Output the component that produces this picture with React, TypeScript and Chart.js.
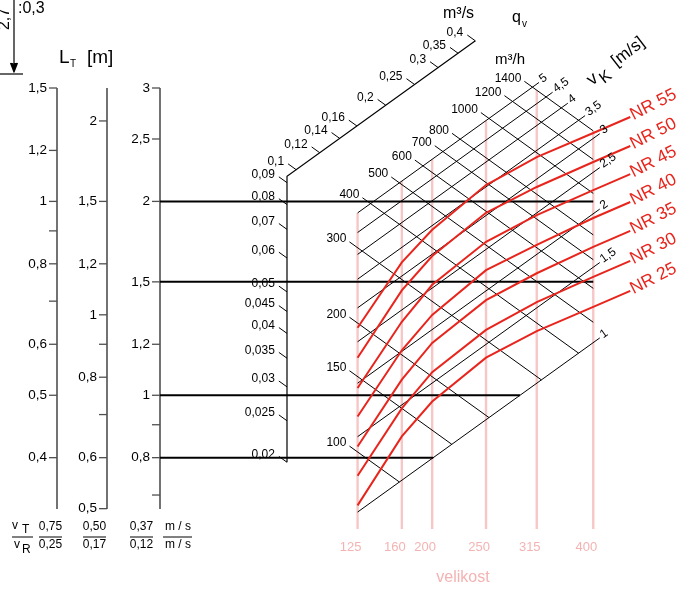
import { useEffect, useRef } from 'react';
import { Chart, registerables } from 'chart.js';

Chart.register(...registerables);

// ---------------- values ----------------
const sizeLabels = ['125', '160', '200', '250', '315', '400'];
// effective area of each size [m²]  (qv = 3600 · A · vK)
const sizeAreaM2 = [0.0201, 0.0283, 0.0358, 0.0543, 0.0804, 0.1245];
const flowLinesM3h = [100, 150, 200, 300, 400, 500, 600, 700, 800, 1000, 1200, 1400];
const velocityLines = [1, 1.5, 2, 2.5, 3, 3.5, 4, 4.5, 5];
const flowTicksM3s = [0.02, 0.025, 0.03, 0.035, 0.04, 0.045, 0.05, 0.06, 0.07, 0.08, 0.09, 0.1, 0.12, 0.14, 0.16, 0.2, 0.25, 0.3, 0.35, 0.4];
const nrLabels = ['NR 55', 'NR 50', 'NR 45', 'NR 40', 'NR 35', 'NR 30', 'NR 25'];
// airflow [m³/h] of each NR curve at the sizes 125 … 400
const nr55 = [195, 329, 441, 691, 977, 1384];
const nr50 = [166, 283, 383, 595, 832, 1184];
const nr45 = [141, 239, 328, 509, 715, 1018];
const nr40 = [121, 205, 279, 437, 609, 876];
const nr35 = [103, 175, 240, 372, 523, 750];
const nr30 = [88, 150, 205, 317, 448, 638];
const nr25 = [75, 129, 175, 273, 383, 543];
const nrSeries = [nr55, nr50, nr45, nr40, nr35, nr30, nr25];
const ltTicks1 = [1.5, 1.2, 1, 0.8, 0.6, 0.5, 0.4];
const ltTicks2 = [2, 1.5, 1.2, 1, 0.8, 0.6, 0.5];
const ltTicks3 = [3, 2.5, 2, 1.5, 1.2, 1, 0.8];
const ltMinorTicks = [0.9, 0.7];
const ltTopValues = [1.5, 2.25, 3];
const ltExampleLines = [2, 1.5, 1, 0.8];
const ratioTop = ['0,75', '0,50', '0,37'];
const ratioBottom = ['0,25', '0,17', '0,12'];

// ---------------- layout ----------------
const W = 686;
const H = 589;
const AREA_TOP = 88;
const AREA_BOTTOM = 509;
const LT_PX_PER_DECADE = 644;
const LT_X = [57, 107, 160];
const LT_TICK = 8;
// nomogram plane: x = X0 + KX·(lg q − lg v), y = Y0 − KY·(lg q + lg v)
const KX = 297.6;
const KY = 214;
const X0 = -195.8;
const Y0 = 910;
const QV_AXIS_X = 287;
const QV_AXIS_VK = 8;
const SIZE_BOTTOM = 529;
const GRID_TICK = 10;
const QV_TICK = 10;
const NR_TAIL = { dx: 37, dy: -16 };
const RATIO_X = [50.5, 94.5, 141.5];
const RATIO_BARS = [[12, 33], [39, 62], [83, 106], [130, 153], [163, 192]];
const ARROW = { x: 14, top: 0, tip: 72, head: 9, halfWidth: 3.5 };

const FONT = "'Liberation Sans', Arial, Helvetica, sans-serif";
const RED = '#e8251d';
const PINK = 'rgba(242,160,160,0.6)';
const PINK_TEXT = '#f4b3b3';
const AXIS_GRAY = '#505050';

type Pt = { x: number; y: number };
const lg = Math.log10;
const tAt = (X: number) => (X - X0) / KX;
const lat = (q: number, v: number): Pt => ({ x: X0 + KX * (lg(q) - lg(v)), y: Y0 - KY * (lg(q) + lg(v)) });
const flowAtX = (q: number, X: number): Pt => ({ x: X, y: Y0 - KY * (2 * lg(q) - tAt(X)) });
const velAtX = (v: number, X: number): Pt => ({ x: X, y: Y0 - KY * (tAt(X) + 2 * lg(v)) });
const sizeX = (A: number) => X0 + KX * lg(A * 3600);
const ltMin = (k: number) => ltTopValues[k] / Math.pow(10, (AREA_BOTTOM - AREA_TOP) / LT_PX_PER_DECADE);
const ltPixel = (k: number, v: number) => AREA_TOP + LT_PX_PER_DECADE * lg(ltTopValues[k] / v);
const fmt = (v: number) => String(v).replace('.', ',');

function geometry() {
  const last = <T,>(a: T[]) => a[a.length - 1];
  const XL = sizeX(sizeAreaM2[0]);
  const XR = sizeX(last(sizeAreaM2));
  const QMAX = last(flowLinesM3h);
  const VMIN = velocityLines[0];
  const VMAX = last(velocityLines);
  const n = Math.hypot(KX, KY);
  const dV = { x: KX / n, y: -KY / n };
  const dF = { x: -KX / n, y: -KY / n };
  const corner = lat(QMAX, VMAX);
  const velLines = velocityLines.map((v) => {
    const s = velAtX(v, XL);
    const e = velAtX(v, Math.min(lat(QMAX, v).x, XR));
    const t = { x: e.x + dV.x * (GRID_TICK - 2), y: e.y + dV.y * (GRID_TICK - 2) };
    return { v, pts: [s, t], tick: t };
  });
  const flowLines = flowLinesM3h.map((q) => {
    const s = flowAtX(q, Math.max(XL, lat(q, VMAX).x));
    const t = { x: s.x + dF.x * GRID_TICK, y: s.y + dF.y * GRID_TICK };
    const e = flowAtX(q, Math.min(lat(q, VMIN).x, XR));
    return { q, pts: [t, e], tick: t };
  });
  const sizeLines = sizeAreaM2.map((A) => {
    const X = sizeX(A);
    const top = X <= corner.x ? velAtX(VMAX, X).y : flowAtX(QMAX, X).y;
    return { X, pts: [{ x: X, y: top }, { x: X, y: SIZE_BOTTOM }] };
  });
  const qPoint = (m3s: number) => {
    const m = m3s * 3600;
    const p = lat(m, QV_AXIS_VK);
    return p.x >= QV_AXIS_X ? p : flowAtX(m, QV_AXIS_X);
  };
  const qAxis = [qPoint(flowTicksM3s[0]), velAtX(QV_AXIS_VK, QV_AXIS_X), qPoint(last(flowTicksM3s))];
  const qTicks = flowTicksM3s.map((v) => {
    const p = qPoint(v);
    const t = { x: p.x + dF.x * QV_TICK, y: p.y + dF.y * QV_TICK };
    return { v, pts: [p, t], tick: t };
  });
  const nr = nrSeries.map((series) => {
    const pts = series.map((q, i) => flowAtX(q, sizeLines[i].X));
    const lp = last(pts);
    const tail = { x: lp.x + NR_TAIL.dx, y: lp.y + NR_TAIL.dy };
    return { pts: [...pts, tail], tail };
  });
  const refs = ltExampleLines.map((v) => {
    const Y = ltPixel(2, v);
    const t = (Y0 - Y) / KY - 2 * lg(VMIN);
    const endX = Math.min(X0 + KX * t, XR);
    return { v, endX };
  });
  return { velLines, flowLines, sizeLines, qAxis, qTicks, nr, refs, angle: Math.atan2(-KY, KX) };
}

const G = geometry();

function buildDatasets() {
  const ds: any[] = [];
  const line = (pts: Pt[], color: string, width: number, order: number, yAxisID = 'py') =>
    ds.push({
      data: pts,
      borderColor: color,
      backgroundColor: color,
      borderWidth: width,
      showLine: true,
      pointRadius: 0,
      pointHoverRadius: 0,
      tension: 0,
      clip: false,
      order,
      xAxisID: 'x',
      yAxisID,
    });
  G.sizeLines.forEach((s) => line(s.pts, PINK, 2.4, 50));
  G.velLines.forEach((l) => line(l.pts, '#000', 1, 40));
  G.flowLines.forEach((l) => line(l.pts, '#000', 1, 40));
  line(G.qAxis, '#000', 1.2, 30);
  G.qTicks.forEach((t) => line(t.pts, '#000', 1, 30));
  const ltSets = [ltTicks1, ltTicks2, ltTicks3];
  ltSets.forEach((ticks, k) => {
    const id = 'y' + (k + 1);
    line([{ x: LT_X[k], y: ltTopValues[k] }, { x: LT_X[k], y: ltMin(k) }], AXIS_GRAY, 1.6, 30, id);
    [...ticks, ...ltMinorTicks].forEach((v) =>
      line([{ x: LT_X[k] - LT_TICK, y: v }, { x: LT_X[k], y: v }], AXIS_GRAY, 1.3, 30, id)
    );
  });
  G.refs.forEach((r) => line([{ x: LT_X[2], y: r.v }, { x: r.endX, y: r.v }], '#000', 2, 20, 'y3'));
  G.nr.forEach((c) => line(c.pts, RED, 2, 5));
  // corner arrow (shaft + filled head drawn as a dense zig-zag) and fraction bars
  line([{ x: ARROW.x, y: ARROW.top }, { x: ARROW.x, y: ARROW.tip - ARROW.head }], '#000', 1.2, 30);
  const head: Pt[] = [];
  for (let i = 0; i <= 8; i++) {
    head.push({ x: ARROW.x - ARROW.halfWidth + (i * 2 * ARROW.halfWidth) / 8, y: ARROW.tip - ARROW.head });
    head.push({ x: ARROW.x, y: ARROW.tip });
  }
  line(head, '#000', 1.2, 30);
  line([{ x: 0, y: 74 }, { x: 23, y: 74 }], '#000', 1.2, 30);
  RATIO_BARS.forEach(([a, b]) => line([{ x: a, y: 537 }, { x: b, y: 537 }], '#000', 1, 30));
  return ds;
}

function txt(ctx: CanvasRenderingContext2D, s: string, x: number, y: number, size: number, color = '#000', align: CanvasTextAlign = 'left', baseline: CanvasTextBaseline = 'middle', rot = 0) {
  ctx.save();
  ctx.translate(x, y);
  if (rot) ctx.rotate(rot);
  ctx.font = `${size}px ${FONT}`;
  ctx.fillStyle = color;
  ctx.textAlign = align;
  ctx.textBaseline = baseline;
  ctx.fillText(s, 0, 0);
  ctx.restore();
}

const textPlugin = {
  id: 'nomogramText',
  afterDatasetsDraw(chart: any) {
    const ctx: CanvasRenderingContext2D = chart.ctx;
    const sx = chart.scales.x;
    const sy = chart.scales.py;
    const X = (v: number) => sx.getPixelForValue(v);
    const Y = (v: number) => sy.getPixelForValue(v);
    // L_T axes
    [ltTicks1, ltTicks2, ltTicks3].forEach((ticks, k) => {
      const sc = chart.scales['y' + (k + 1)];
      ticks.forEach((v) => txt(ctx, fmt(v), X(LT_X[k] - LT_TICK - 2), sc.getPixelForValue(v), 13.5, '#000', 'right'));
    });
    txt(ctx, 'L', X(59), Y(63), 19, '#000', 'left', 'alphabetic');
    txt(ctx, 'T', X(70), Y(67), 10, '#000', 'left', 'alphabetic');
    txt(ctx, '[m]', X(87), Y(63), 19, '#000', 'left', 'alphabetic');
    // corner fragment
    txt(ctx, '2,7', X(5), Y(19), 16, '#000', 'center', 'middle', -Math.PI / 2);
    txt(ctx, ':0,3', X(18), Y(9), 16, '#000', 'left');
    // ratios
    txt(ctx, 'v', X(12), Y(526), 12);
    txt(ctx, 'T', X(22), Y(530), 12);
    txt(ctx, 'v', X(14), Y(545), 12);
    txt(ctx, 'R', X(22), Y(550), 12);
    RATIO_X.forEach((x, i) => {
      txt(ctx, ratioTop[i], X(x), Y(527), 12, '#000', 'center');
      txt(ctx, ratioBottom[i], X(x), Y(545), 12, '#000', 'center');
    });
    txt(ctx, 'm / s', X(178), Y(527), 12, '#000', 'center');
    txt(ctx, 'm / s', X(178), Y(545), 12, '#000', 'center');
    // qv axis [m³/s]
    G.qTicks.forEach((t) => txt(ctx, fmt(t.v), X(t.tick.x - 4), Y(t.tick.y - 2), 12, '#000', 'right'));
    txt(ctx, 'm³/s', X(443), Y(14), 16);
    txt(ctx, 'q', X(512), Y(22), 16, '#000', 'left', 'alphabetic');
    txt(ctx, 'v', X(522), Y(27), 10, '#000', 'left', 'alphabetic');
    txt(ctx, 'm³/h', X(495), Y(60), 15);
    // grid labels
    G.flowLines.forEach((l) => txt(ctx, String(l.q), X(l.tick.x - 3), Y(l.tick.y - 3), 12, '#000', 'right'));
    G.velLines.forEach((l) => {
      const a = G.angle;
      txt(ctx, fmt(l.v), X(l.tick.x + Math.cos(a) * 2), Y(l.tick.y + Math.sin(a) * 2 - 1), 12, '#000', 'left', 'middle', a);
    });
    // vK [m/s]
    ctx.save();
    ctx.translate(X(592), Y(86));
    ctx.rotate(-0.66);
    txt(ctx, 'v', 0, 0, 18, '#000', 'left', 'alphabetic');
    txt(ctx, 'K', 11, 6, 16, '#000', 'left', 'alphabetic');
    txt(ctx, '[m/s]', 31, 0, 17, '#000', 'left', 'alphabetic');
    ctx.restore();
    // NR labels
    G.nr.forEach((c, i) => txt(ctx, nrLabels[i], X(c.tail.x + 1), Y(c.tail.y - 1), 17.5, RED, 'left', 'middle', -0.47));
    // sizes
    G.sizeLines.forEach((s, i) => txt(ctx, sizeLabels[i], X(s.X - 7), Y(547), 13, PINK_TEXT, 'center'));
    txt(ctx, 'velikost', X(463), Y(578), 16, PINK_TEXT, 'center');
  },
};

export default function App() {
  const ref = useRef<HTMLCanvasElement>(null);
  useEffect(() => {
    const canvas = ref.current;
    if (!canvas) return;
    const logAxis = (k: number) => ({
      type: 'logarithmic',
      axis: 'y',
      min: ltMin(k),
      max: ltTopValues[k],
      bounds: 'data',
      display: false,
    });
    const chart = new Chart(canvas, {
      type: 'scatter',
      data: { datasets: buildDatasets() },
      options: {
        responsive: false,
        animation: false,
        events: [],
        layout: { padding: { top: AREA_TOP, bottom: H - AREA_BOTTOM, left: 0, right: 0 }, autoPadding: false },
        plugins: { legend: { display: false }, tooltip: { enabled: false } },
        scales: {
          x: { type: 'linear', min: 0, max: W, bounds: 'data', display: false },
          py: { type: 'linear', axis: 'y', min: AREA_TOP, max: AREA_BOTTOM, reverse: true, bounds: 'data', display: false },
          y1: logAxis(0),
          y2: logAxis(1),
          y3: logAxis(2),
        },
      } as any,
      plugins: [textPlugin],
    } as any);
    return () => chart.destroy();
  }, []);
  return (
    <div style={{ position: 'absolute', left: 0, top: 0, width: W, height: H, background: '#fff' }}>
      <canvas ref={ref} width={W} height={H} style={{ width: W, height: H, display: 'block' }} />
    </div>
  );
}
